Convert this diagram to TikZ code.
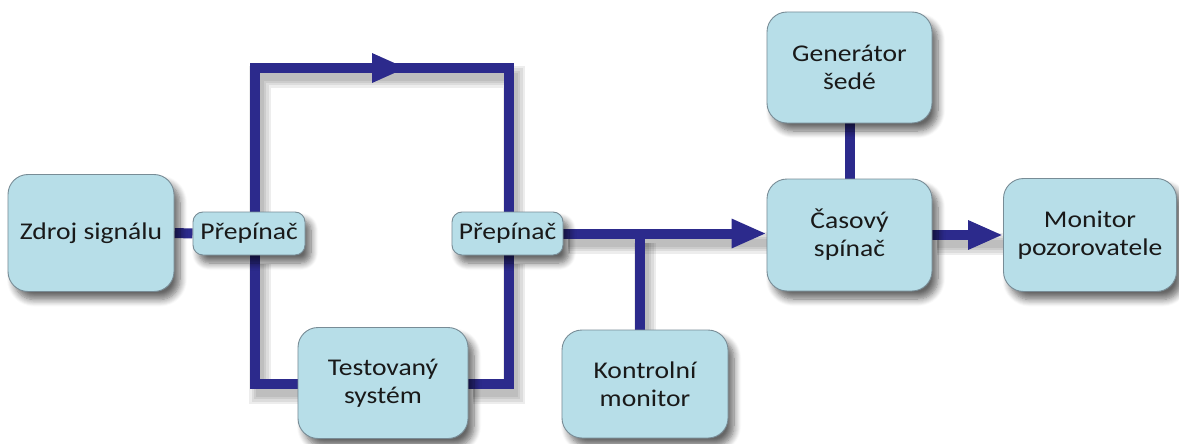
\documentclass[tikz,border=0pt]{standalone}
\usepackage{fontspec}
\setmainfont[FakeStretch=1.15]{Carlito}
\usetikzlibrary{arrows.meta,shadows.blur,backgrounds}
\definecolor{boxfill}{RGB}{183,222,232}
\definecolor{boxline}{RGB}{120,140,150}
\definecolor{wirec}{RGB}{44,42,140}
\tikzset{
  blk/.style={draw=boxline, line width=0.9pt, fill=boxfill, rounded corners=20pt,
    align=center, inner sep=0pt, font=\fontsize{24}{28}\selectfont, text=black!90,
    blur shadow={shadow xshift=6pt, shadow yshift=-8pt, shadow blur steps=8,
      shadow blur radius=7pt, shadow opacity=60}},
  sw/.style={blk, rounded corners=10pt},
  wire/.style={draw=wirec, line width=10pt},
  warrow/.style={wire, -{Triangle[length=35pt,width=27pt]}},
  wshadow/.style={draw=black, opacity=0.07, line width=#1,
    transform canvas={xshift=5pt,yshift=-9pt}}
}
\begin{document}
\begin{tikzpicture}[x=1pt,y=-1pt]
\useasboundingbox (0,0) rectangle (1179,444);
% boxes
\node[blk, minimum width=166pt, minimum height=117pt] (zdroj) at (91,233) {Zdroj signálu};
\node[sw, minimum width=112pt, minimum height=43pt] (pA) at (249,233.5) {Přepínač};
\node[sw, minimum width=111pt, minimum height=43pt] (pB) at (507.5,233.5) {Přepínač};
\node[blk, minimum width=170pt, minimum height=111pt] (test) at (383,383) {Testovaný\\systém};
\node[blk, minimum width=166pt, minimum height=108pt] (kont) at (645,384) {Kontrolní\\monitor};
\node[blk, minimum width=165pt, minimum height=111pt] (gen) at (849.5,67.5) {Generátor\\šedé};
\node[blk, minimum width=165pt, minimum height=112pt] (cas) at (849.5,235) {Časový\\spínač};
\node[blk, minimum width=173pt, minimum height=113pt] (mon) at (1090,235) {Monitor\\pozorovatele};
% helper coordinates
\coordinate (tl) at (255,68);
\coordinate (tr) at (509,68);
\coordinate (tm) at (407,68);
\coordinate (bl) at (255,384);
\coordinate (br) at (509,384);
\coordinate (tj) at (640,233.5);
\begin{pgfonlayer}{background}
  % soft shadows of the wires
  \foreach \w in {22pt,17pt,12pt,8pt} {
    \draw[wshadow=\w] (pA.north -| tl) -- (tl) -- (tr) -- (pB.north -| tr);
    \draw[wshadow=\w] (pA.south -| bl) -- (bl) -- (test.west |- bl);
    \draw[wshadow=\w] (test.east |- br) -- (br) -- (pB.south -| br);
    \draw[wshadow=\w] (pB.east) -- (pB.east -| cas.west);
    \draw[wshadow=\w] (tj) -- (tj |- kont.north);
    \draw[wshadow=\w] (cas.east) -- (mon.west);
  }
  % wires
  \draw[wire] (zdroj.east) -- (pA.west);
  \draw[wire] (pA.north -| tl) -- (tl) -- (tr) -- (pB.north -| tr);
  \draw[warrow] (tl) -- (tm);
  \draw[wire] (pA.south -| bl) -- (bl) -- (test.west |- bl);
  \draw[wire] (test.east |- br) -- (br) -- (pB.south -| br);
  \draw[warrow] (pB.east) -- (pB.east -| cas.west);
  \draw[wire] (tj) -- (tj |- kont.north);
  \draw[wire] (gen.south) -- (cas.north);
  \draw[warrow] (cas.east) -- (mon.west);
\end{pgfonlayer}
\end{tikzpicture}
\end{document}
